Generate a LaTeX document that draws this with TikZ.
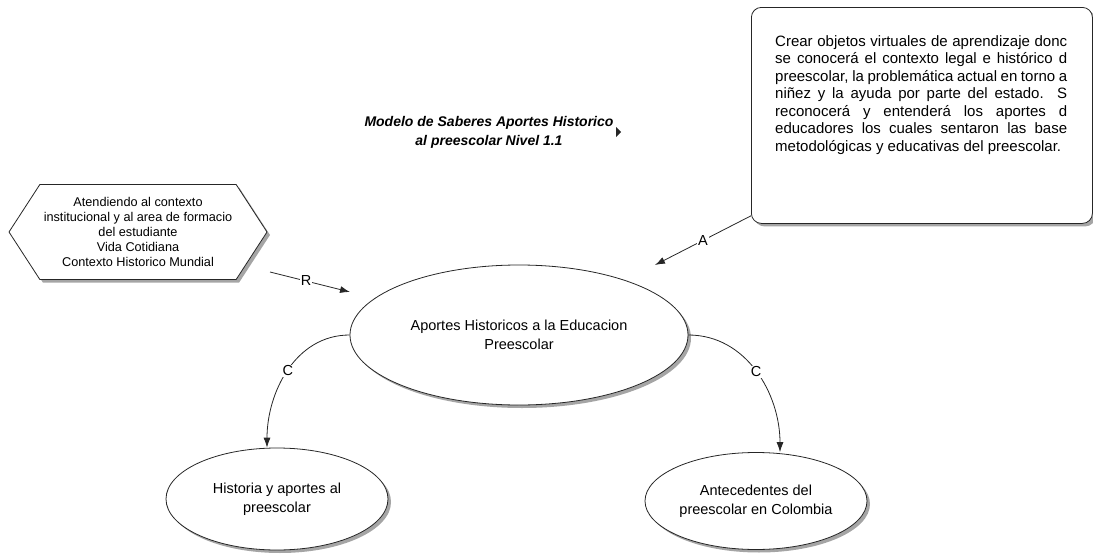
\documentclass[tikz,border=0pt]{standalone}
\usepackage{fontspec}
\setmainfont{Liberation Sans}
\usetikzlibrary{arrows.meta, shapes.geometric, shapes.symbols, shadows}

\begin{document}
\begin{tikzpicture}[x = 1pt, y = -1pt, > = {Latex[length = 10pt, width = 7pt]},
	link/.style = {draw = black!85, line width = 0.8pt},
	boxshadow/.style = {drop shadow = {shadow xshift = 3pt, shadow yshift = -3pt, fill = black!70, opacity = 0.5}},
	idea/.style = {ellipse, link, boxshadow, fill = white, inner sep = 0pt, align = center, font = \fontsize{14.5}{18.5}\selectfont},
	tag/.style = {fill = white, inner sep = 1pt, font = \fontsize{14.5}{17}\selectfont}]

	% Page size
	
	\useasboundingbox (0, 0) rectangle (1093, 554);
	
	% Title
	
	\node [align = center, font = \fontsize{14}{19}\bfseries\itshape\selectfont] (title) at (489, 132)
		{Modelo de Saberes Aportes Historico\\ al preescolar Nivel 1.1};
	\fill [black!85] (616, 127) -- (621, 132) -- (616, 137) -- cycle;
	
	% Concepts
	
	\node [idea, minimum width = 338pt, minimum height = 140pt] (main) at (519, 335)
		{Aportes Historicos a la Educacion\\ Preescolar};
	\node [idea, minimum width = 222pt, minimum height = 102pt] (hist) at (277, 499)
		{Historia y aportes al\\ preescolar};
	\node [idea, minimum width = 222pt, minimum height = 97pt] (colombia) at (756, 501)
		{Antecedentes del\\ preescolar en Colombia};
	
	% Context hexagon
	
	\node [signal, signal to = west and east, signal pointer angle = 114, link, boxshadow, fill = white,
		minimum width = 258pt, minimum height = 95pt, inner sep = 0pt, align = center,
		font = \fontsize{12.7}{15}\selectfont] (context) at (138, 232)
		{Atendiendo al contexto\\ institucional y al area de formacio\\ del estudiante\\ Vida Cotidiana\\ Contexto Historico Mundial};
	
	% Note box
	
	\node [link, boxshadow, fill = white, rounded corners = 10pt, anchor = north west,
		minimum width = 341pt, minimum height = 216pt] (note) at (751, 7) {};
	\node [anchor = north west, inner sep = 0pt, text width = 292pt, align = justify,
		font = \fontsize{15}{17.5}\selectfont] (goal) at ([xshift = 24pt, yshift = -28pt] note.north west)
		{Crear objetos virtuales de aprendizaje donc\linebreak
		se conocerá el contexto legal e histórico d\linebreak
		preescolar, la problemática actual en torno a\linebreak
		niñez y la ayuda por parte del estado. S\linebreak
		reconocerá y entenderá los aportes d\linebreak
		educadores los cuales sentaron las base\linebreak
		metodológicas y educativas del preescolar.};
	
	% Free ends
	
	\coordinate (rStart) at (270, 272);
	\coordinate (rEnd) at (350, 292);
	\coordinate (aStart) at ([yshift = 8pt] note.south west);
	\coordinate (aEnd) at (655, 265);
	
	% Connectors
	
	\draw [link, ->] (rStart) -- node [tag, pos = 0.45] {R} (rEnd);
	\draw [link, ->] (aStart) -- node [tag] {A} (aEnd);
	\draw [link, ->] (main.west) to [out = 180, in = 90] node [tag] {C} ([xshift = -10pt] hist.north);
	\draw [link, ->] (main.east) to [out = 0, in = 90] node [tag] {C} ([xshift = 24pt] colombia.north);

\end{tikzpicture}
\end{document}
